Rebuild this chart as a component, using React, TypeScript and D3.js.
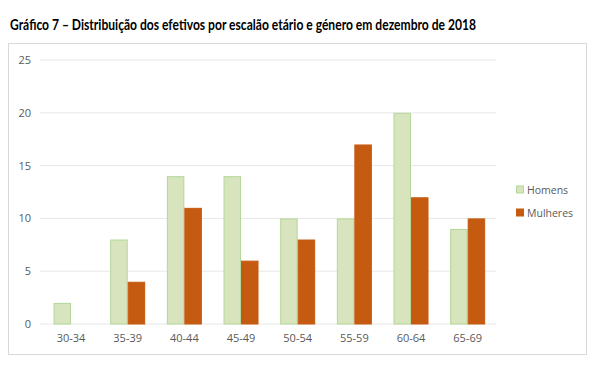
import React from "react";
import * as d3 from "d3";

const categories = ["30-34", "35-39", "40-44", "45-49", "50-54", "55-59", "60-64", "65-69"];
const homens = [2, 8, 14, 14, 10, 10, 20, 9];
const mulheres = [0, 4, 11, 6, 8, 17, 12, 10];
const yTicks = [0, 5, 10, 15, 20, 25];
const seriesNames = ["Homens", "Mulheres"];
const colors = ["#d7e4bd", "#c55a11"];
const strokes = ["#b5d79a", "#c55a11"];

export default function App() {
  const x = d3.scaleBand<string>().domain(categories).range([42.7, 496]).paddingInner(0).paddingOuter(0);
  const y = d3.scaleLinear().domain([0, 25]).range([324, 60]);
  const bw = 17.5;
  const series = [homens, mulheres];
  const font = "'Open Sans', 'Liberation Sans', sans-serif";
  return (
    <svg width={600} height={367} style={{ position: "absolute", left: 0, top: 0 }}>
      <rect width={600} height={367} fill="#fff" />
      <text x={10} y={30} fontFamily="Lato, 'Liberation Sans', sans-serif" fontWeight="bold" fontSize={14.5} fill="#000" textLength={466} lengthAdjust="spacingAndGlyphs">
        Gráfico 7 – Distribuição dos efetivos por escalão etário e género em dezembro de 2018
      </text>
      <rect x={8.5} y={43.5} width={578} height={311} fill="#fff" stroke="#d9d9d9" strokeWidth={1} />
      {yTicks.map((t) => (
        <g key={t}>
          <line x1={40} x2={496} y1={y(t)} y2={y(t)} stroke="#e8e8e8" strokeWidth={1} />
          <text x={31} y={y(t) + 4} textAnchor="end" fontFamily={font} fontSize={11} fill="#595959">{t}</text>
        </g>
      ))}
      {series.map((vals, si) =>
        vals.map((v, i) => {
          if (v === 0) return null;
          const cx = (x(categories[i]) as number) + x.bandwidth() / 2;
          const x0 = si === 0 ? cx - bw : cx;
          return (
            <rect key={`${si}-${i}`} x={x0 + 0.5} y={y(v) + 0.5} width={bw - 1} height={y(0) - y(v) - 0.5}
              fill={colors[si]} stroke={strokes[si]} strokeWidth={1} />
          );
        })
      )}
      {categories.map((c) => (
        <text key={c} x={(x(c) as number) + x.bandwidth() / 2} y={342} textAnchor="middle" fontFamily={font} fontSize={11} fill="#595959">{c}</text>
      ))}
      {seriesNames.map((n, i) => (
        <g key={n}>
          <rect x={516.5} y={186 + i * 23} width={7} height={7} fill={colors[i]} stroke={strokes[i]} strokeWidth={1} />
          <text x={527} y={194 + i * 23} fontFamily={font} fontSize={10.5} fill="#595959">{n}</text>
        </g>
      ))}
    </svg>
  );
}
